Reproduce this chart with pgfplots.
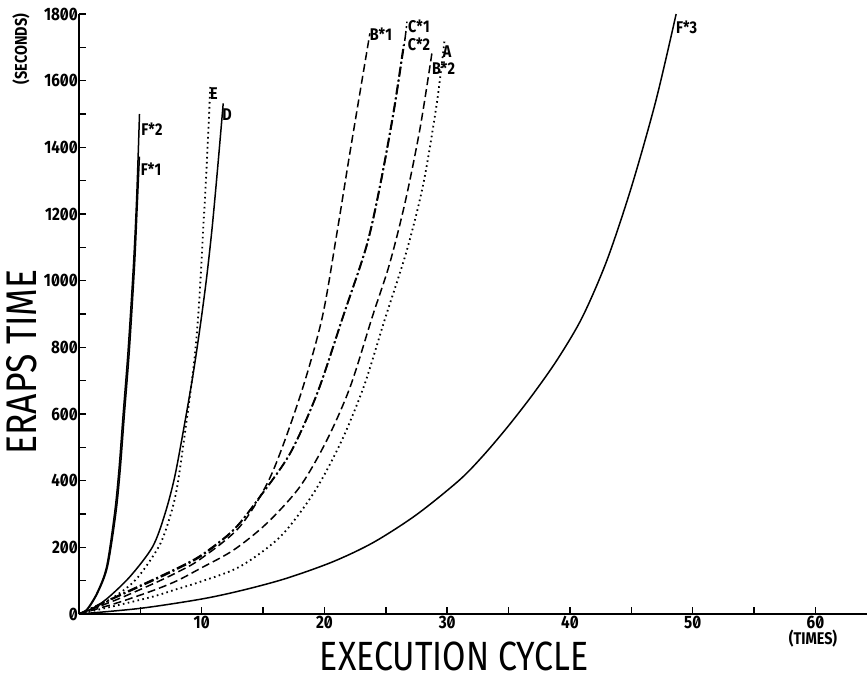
\documentclass[border=0pt]{standalone}
\usepackage{fontspec}
\setmainfont{Fira Sans}
\newfontfamily\tickfont[FakeStretch=0.85,Numbers=SlashedZero]{Fira Sans}
\newfontfamily\titlefont[FakeStretch=0.83]{Fira Sans}
\usepackage{pgfplots}
\pgfplotsset{compat=1.18}
\begin{document}
\begin{tikzpicture}
\begin{axis}[
 scale only axis, width=788bp, height=600bp,
 xmin=0, xmax=64.2, ymin=0, ymax=1800,
 axis lines*=left,
 axis line style={line width=2bp},
 tick align=inside,
 major tick length=7bp, minor tick length=7bp,
 every tick/.style={line width=1.5bp, black},
 xtick={5,10,...,60},
 xticklabels={,10,,20,,30,,40,,50,,60},
 ytick={0,200,...,1800},
 minor ytick={100,300,...,1700},
 /pgf/number format/assume math mode=true,
 /pgf/number format/1000 sep={},
 ticklabel style={font=\tickfont\bfseries\fontsize{18}{18}\selectfont},
 xticklabel style={inner sep=1.5bp},
 yticklabel style={inner sep=1bp},
 clip=false,
 cycle list={{black,solid}},
 no markers,
 every axis plot/.append style={line width=1.5bp, black, smooth, tension=0.5},
]
% F*2
\addplot coordinates {(0,0) (0.6,12) (1.45,62) (2.25,142) (2.9,302) (3.25,430) (3.6,600) (4.0,790) (4.43,1042) (4.7,1250) (4.93,1500)};
% F*1
\addplot coordinates {(0,0) (0.65,12) (1.5,62) (2.32,142) (3.0,302) (3.35,430) (3.7,600) (4.1,790) (4.52,1042) (4.75,1230) (4.92,1372)};
% E
\addplot[dash pattern=on 1.6bp off 3.4bp, line width=1.8bp] coordinates {(0,0) (1,12) (2.5,42) (4.6,102) (6.5,202) (7.4,290) (8.0,382) (8.7,562) (9.4,762) (9.8,942) (10.1,1142) (10.4,1342) (10.7,1582)};
% D
\addplot coordinates {(0,0) (1,15) (2.25,45) (4.15,112) (6.0,202) (7.0,300) (7.8,412) (8.6,570) (9.3,720) (9.9,870) (10.4,1010) (10.85,1160) (11.3,1340) (11.75,1532)};
% B*1
\addplot[dash pattern=on 8bp off 4bp] coordinates {(0,0) (3,42) (6,90) (8,125) (9.9,165) (13.1,262) (15.6,412) (18.0,652) (19.8,887) (21.0,1140) (22.1,1390) (23.7,1742)};
% C*2
\addplot[dash pattern=on 10bp off 3bp on 2bp off 3bp, line width=1.8bp] coordinates {(0,0) (3,50) (6,100) (8,135) (10,175) (12.6,252) (14.75,352) (17.2,482) (19.4,662) (21.5,892) (23.4,1102) (24.5,1282) (25.6,1502) (26.45,1707)};
% C*1
\addplot[dash pattern=on 10bp off 3bp on 2bp off 3bp, line width=1.5bp] coordinates {(0,0) (3,52) (6,103) (8,138) (10,178) (12.65,255) (14.8,355) (17.25,485) (19.45,665) (21.55,895) (23.45,1105) (24.55,1285) (25.65,1505) (26.5,1710) (26.72,1777)};
% B*2
\addplot[dash pattern=on 8bp off 4bp] coordinates {(0,0) (3,32) (6,70) (8,100) (9.9,137) (12.6,192) (15.3,272) (18,382) (20.2,522) (22.1,682) (23.9,892) (25.3,1050) (26.6,1240) (27.8,1460) (28.75,1682)};
% A
\addplot[dash pattern=on 1.6bp off 3.4bp, line width=1.8bp] coordinates {(0,0) (3,25) (6,52) (8,75) (9.9,97) (13.1,142) (16.4,232) (19.1,362) (21.3,512) (23.2,682) (24.9,882) (26.7,1090) (28.05,1290) (29.15,1532) (29.8,1727)};
% F*3
\addplot coordinates {(0,0) (5,17) (10,45) (13.4,72) (16.9,107) (20.7,157) (24,215) (27.5,298) (31,402) (33,478) (35,565) (37,660) (39,765) (41,890) (43,1060) (45,1280) (47,1540) (48.65,1800)};
% curve labels
\begin{scope}[every node/.style={font=\tickfont\bfseries\fontsize{17}{17}\selectfont, inner sep=0pt}]
\node at (axis cs:5.95,1455) {F*2};
\node at (axis cs:5.87,1335) {F*1};
\node at (axis cs:11.0,1560) {E};
\node at (axis cs:12.06,1497) {D};
\node at (axis cs:24.6,1740) {B*1};
\node at (axis cs:27.7,1762) {C*1};
\node at (axis cs:27.7,1708) {C*2};
\node at (axis cs:30.0,1686) {A};
\node at (axis cs:29.7,1638) {B*2};
\node at (axis cs:49.5,1761) {F*3};
\node at (axis cs:59.8,-75) {(TIMES)};
\end{scope}
\node[rotate=90, font=\tickfont\bfseries\fontsize{17}{17}\selectfont] at (axis description cs:-0.0736,0.9417) {(SECONDS)};
\node[rotate=90, font=\titlefont\fontsize{43}{43}\selectfont] at (axis description cs:-0.0723,0.42) {ERAPS TIME};
\node[font=\titlefont\fontsize{41}{41}\selectfont] at (axis description cs:0.476,-0.07) {EXECUTION CYCLE};
\end{axis}
\pgfresetboundingbox
\useasboundingbox (-79bp,-66bp) rectangle (788bp,614bp);
\end{tikzpicture}
\end{document}
